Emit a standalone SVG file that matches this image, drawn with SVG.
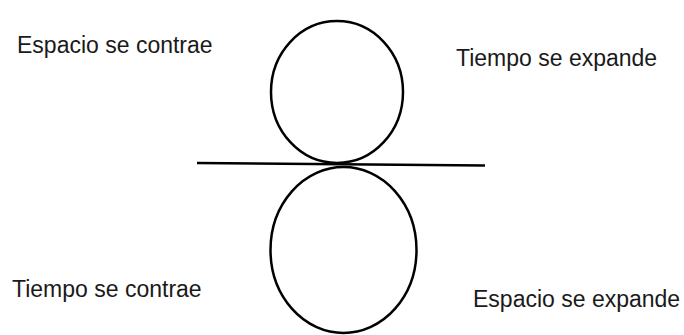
<svg xmlns="http://www.w3.org/2000/svg" width="684" height="335" viewBox="0 0 684 335">
<style>
.lbl{font-family:"Liberation Sans",Arial,sans-serif;font-size:23px;fill:#1a1a1a}
.shape{fill:none;stroke:#000;stroke-width:2.5}
</style>
<rect width="684" height="335" fill="#fff"/>
<g id="top-circle"><ellipse class="shape" cx="337" cy="92" rx="66" ry="71"/></g>
<g id="bottom-circle"><ellipse class="shape" cx="343.5" cy="250" rx="73" ry="83"/></g>
<g id="connectors"><line class="shape" x1="197" y1="163" x2="485" y2="165.5"/></g>
<g id="label-espacio-contrae"><text class="lbl" x="17" y="53">Espacio se contrae</text></g>
<g id="label-tiempo-expande"><text class="lbl" x="456" y="66">Tiempo se expande</text></g>
<g id="label-tiempo-contrae"><text class="lbl" x="12" y="297">Tiempo se contrae</text></g>
<g id="label-espacio-expande"><text class="lbl" x="473" y="307">Espacio se expande</text></g>
</svg>
